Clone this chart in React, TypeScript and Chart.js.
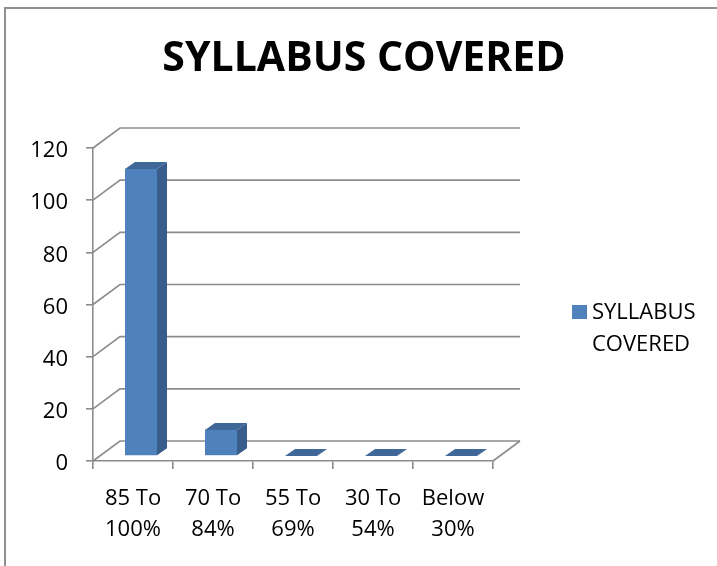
import React, { useEffect, useRef } from "react";
import { Chart, registerables } from "chart.js";

Chart.register(...registerables);

const categories: string[][] = [
  ["85 To", "100%"],
  ["70 To", "84%"],
  ["55 To", "69%"],
  ["30 To", "54%"],
  ["Below", "30%"],
];
const seriesName = "SYLLABUS COVERED";
const legendLines = ["SYLLABUS", "COVERED"];
const values = [110, 10, 0, 0, 0];
const yMin = 0;
const yMax = 120;
const yStep = 20;

const FRONT = "#4f81bd";
const SIDE = "#385d8a";
const TOP = "#3f6797";
const GRID = "#8c8c8c";
const FONT = "'Open Sans', 'Noto Sans', sans-serif";

// 3D geometry
const WDX = 27, WDY = -20; // wall depth
const FX = 8, FY = -5; // bar front shift
const BDX = 10, BDY = -7; // bar depth

const threeD = {
  id: "threeD",
  beforeDatasetsDraw(chart: any) {
    const { ctx, chartArea: a, scales } = chart;
    const y = scales.y;
    ctx.save();
    ctx.strokeStyle = GRID;
    ctx.lineWidth = 1.6;
    y.ticks.forEach((t: any) => {
      const py = y.getPixelForValue(t.value);
      ctx.beginPath();
      ctx.moveTo(a.left, py);
      ctx.lineTo(a.left + WDX, py + WDY);
      ctx.lineTo(a.right + WDX, py + WDY);
      ctx.stroke();
    });
    ctx.beginPath();
    ctx.moveTo(a.right, a.bottom);
    ctx.lineTo(a.right + WDX, a.bottom + WDY);
    ctx.stroke();
    ctx.restore();
    ctx.save();
    ctx.translate(FX, FY);
  },
  afterDatasetsDraw(chart: any) {
    const ctx = chart.ctx;
    const meta = chart.getDatasetMeta(0);
    meta.data.forEach((bar: any) => {
      const { x, y, base, width } = bar.getProps(["x", "y", "base", "width"], true);
      const l = x - width / 2;
      const r = x + width / 2;
      ctx.fillStyle = SIDE;
      ctx.beginPath();
      ctx.moveTo(r, y);
      ctx.lineTo(r + BDX, y + BDY);
      ctx.lineTo(r + BDX, base + BDY);
      ctx.lineTo(r, base);
      ctx.closePath();
      ctx.fill();
      ctx.fillStyle = TOP;
      ctx.beginPath();
      ctx.moveTo(l, y);
      ctx.lineTo(l + BDX, y + BDY);
      ctx.lineTo(r + BDX, y + BDY);
      ctx.lineTo(r, y);
      ctx.closePath();
      ctx.fill();
    });
    ctx.restore();
  },
  afterDraw(chart: any) {
    const ctx = chart.ctx;
    ctx.save();
    ctx.fillStyle = "#000";
    ctx.font = `bold 41px ${FONT}`;
    ctx.textAlign = "center";
    ctx.textBaseline = "alphabetic";
    ctx.fillText(seriesName, 364, 71);
    // legend
    ctx.fillStyle = FRONT;
    ctx.fillRect(572, 305, 15, 14);
    ctx.fillStyle = "#000";
    ctx.font = `22px ${FONT}`;
    ctx.textAlign = "left";
    ctx.textBaseline = "middle";
    ctx.fillText(legendLines[0], 592, 313);
    ctx.fillText(legendLines[1], 592, 345);
    ctx.restore();
  },
};

export default function App() {
  const ref = useRef<HTMLCanvasElement | null>(null);
  useEffect(() => {
    if (!ref.current) return;
    const chart = new Chart(ref.current, {
      type: "bar",
      data: {
        labels: categories,
        datasets: [
          {
            label: seriesName,
            data: values,
            backgroundColor: FRONT,
            borderWidth: 0,
            barPercentage: 0.5,
            categoryPercentage: 0.8,
          },
        ],
      },
      options: {
        responsive: false,
        animation: false,
        devicePixelRatio: 1,
        layout: { padding: { left: 14, right: 224, top: 148, bottom: 0 } },
        plugins: {
          legend: { display: false },
          title: { display: false },
          tooltip: { enabled: false },
        },
        scales: {
          x: {
            afterFit: (s: any) => {
              s.height = 105;
            },
            grid: {
              display: true,
              drawOnChartArea: false,
              drawTicks: true,
              tickLength: 8,
              color: GRID,
              lineWidth: 1.6,
            },
            border: { display: true, color: GRID, width: 1.6 },
            ticks: {
              color: "#000",
              font: { family: FONT, size: 22, lineHeight: 1.42 },
              padding: 14,
              maxRotation: 0,
              autoSkip: false,
            },
          },
          y: {
            min: yMin,
            max: yMax,
            afterFit: (s: any) => {
              s.width = 79;
            },
            grid: {
              display: true,
              drawOnChartArea: false,
              drawTicks: true,
              tickLength: 7,
              color: GRID,
              lineWidth: 1.6,
            },
            border: { display: true, color: GRID, width: 1.6 },
            ticks: {
              stepSize: yStep,
              color: "#000",
              font: { family: FONT, size: 22 },
              padding: 18,
              labelOffset: 3,
            },
          },
        },
      },
      plugins: [threeD],
    } as any);
    return () => chart.destroy();
  }, []);
  return (
    <div
      style={{
        position: "absolute",
        left: 0,
        top: 0,
        width: 717,
        height: 566,
        overflow: "hidden",
        background: "#fff",
      }}
    >
      <canvas
        ref={ref}
        width={717}
        height={566}
        style={{ position: "absolute", left: 0, top: 0 }}
      />
      <div
        style={{
          position: "absolute",
          left: 4,
          top: 7,
          width: 800,
          height: 700,
          borderLeft: "2px solid #8f8f8f",
          borderTop: "2px solid #8f8f8f",
          pointerEvents: "none",
        }}
      />
    </div>
  );
}
